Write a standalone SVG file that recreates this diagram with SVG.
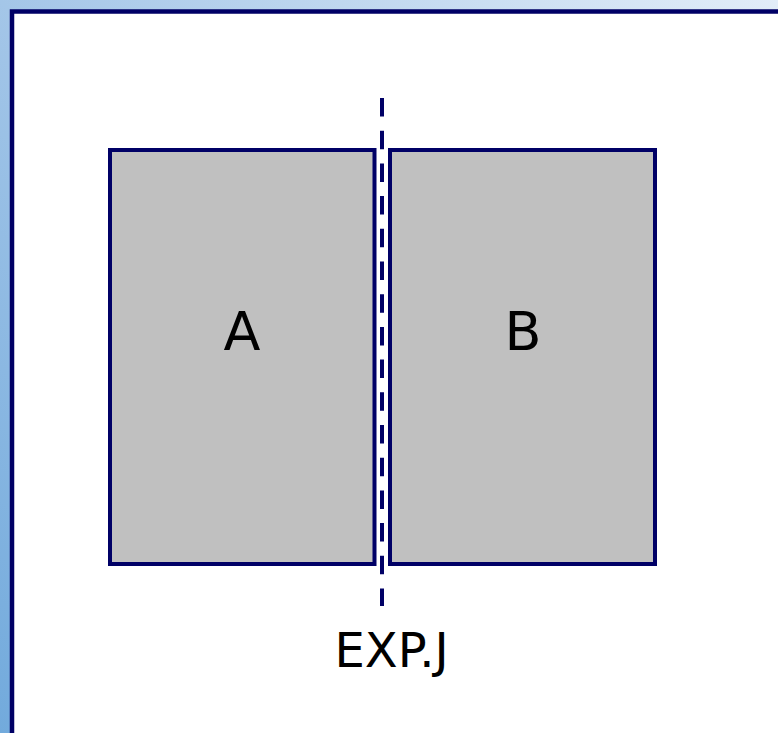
<svg xmlns="http://www.w3.org/2000/svg" width="778" height="733" viewBox="0 0 778 733">
  <defs>
    <linearGradient id="bg" x1="0" y1="1" x2="1" y2="0">
      <stop offset="0" stop-color="#72aadc"/>
      <stop offset="0.5" stop-color="#a4c6e8"/>
      <stop offset="1" stop-color="#e2edf8"/>
    </linearGradient>
    <style>
      .box { fill: #c0c0c0; stroke: #000066; stroke-width: 4; }
      .lbl { font-family: "DejaVu Sans", sans-serif; fill: #000000; text-anchor: middle; }
    </style>
  </defs>
  <rect x="0" y="0" width="778" height="733" fill="url(#bg)"/>
  <rect x="12" y="11.5" width="780" height="740" fill="#ffffff" stroke="#000066" stroke-width="4.5"/>
  <g id="nodeA">
    <rect class="box" x="110" y="150" width="264.5" height="414"/>
    <text class="lbl" x="242" y="350" font-size="54">A</text>
  </g>
  <g id="nodeB">
    <rect class="box" x="390" y="150" width="265" height="414"/>
    <text class="lbl" x="523" y="350" font-size="54">B</text>
  </g>
  <g id="connectors">
    <line x1="382" y1="98" x2="382" y2="606" stroke="#000066" stroke-width="4" stroke-dasharray="18.5 14.2"/>
  </g>
  <text class="lbl" x="391.5" y="667" font-size="48">EXP.J</text>
</svg>
